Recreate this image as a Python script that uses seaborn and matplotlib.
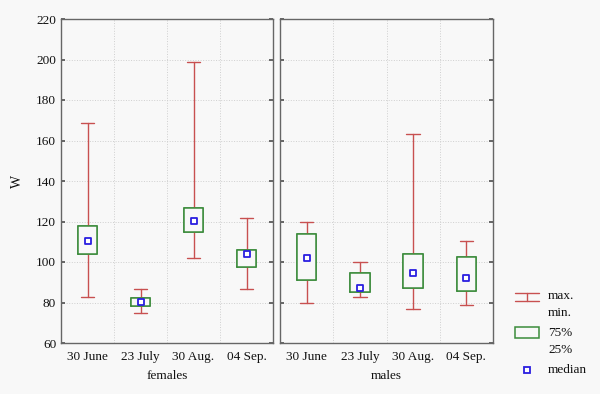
import numpy as np
import pandas as pd
import matplotlib
matplotlib.use("Agg")
import matplotlib.pyplot as plt
import seaborn as sns
from matplotlib.patches import Rectangle

# Data
dates = ["30 June", "23 July", "30 Aug.", "04 Sep."]
groups = ["females", "males"]

f_min = [82.6, 74.7, 101.8, 86.6]
f_q1 = [104.0, 78.5, 114.8, 97.5]
f_med = [110.4, 80.2, 120.3, 104.1]
f_q3 = [117.7, 82.3, 126.6, 106.0]
f_max = [168.4, 86.6, 199.0, 121.8]

m_min = [80.0, 82.5, 77.0, 78.7]
m_q1 = [91.0, 85.3, 87.4, 85.6]
m_med = [102.0, 87.0, 94.7, 92.1]
m_q3 = [114.0, 94.7, 104.1, 102.6]
m_max = [120.0, 99.8, 163.2, 110.5]

stats_by_group = {
    "females": (f_min, f_q1, f_med, f_q3, f_max),
    "males": (m_min, m_q1, m_med, m_q3, m_max),
}

bg = "#f8f8f8"
red = "#c85050"
green = "#3c8c3c"
blue = "#2a1ee0"

sns.set_theme(style="white")
plt.rcParams["font.family"] = ["Liberation Serif", "DejaVu Serif"]
plt.rcParams["font.size"] = 9.5

fig = plt.figure(figsize=(6, 3.94), dpi=100, facecolor=bg)
W, H = 600, 394
panels = [(61, 212), (280, 213)]

axes = []
for i, grp in enumerate(groups):
    x0, w = panels[i]
    ax = fig.add_axes([x0 / W, (H - 343) / H, w / W, 324 / H], facecolor=bg)
    axes.append(ax)
    lo, q1, med, q3, hi = stats_by_group[grp]
    bstats = [dict(whislo=lo[k], q1=q1[k], med=med[k], q3=q3[k], whishi=hi[k],
                   fliers=[], label=dates[k]) for k in range(len(dates))]
    ax.bxp(bstats, positions=np.arange(len(dates)), widths=0.37, capwidths=0.25,
           showfliers=False, manage_ticks=False,
           boxprops=dict(color=green, linewidth=1.1),
           whiskerprops=dict(color=red, linewidth=1.0),
           capprops=dict(color=red, linewidth=1.0),
           medianprops=dict(visible=False))
    # fill the box so it sits over the whisker
    for k in range(len(dates)):
        ax.add_patch(Rectangle((k - 0.185, q1[k]), 0.37, q3[k] - q1[k],
                               facecolor=bg, edgecolor=green, linewidth=1.1, zorder=3))
    df = pd.DataFrame({"date": np.arange(len(dates)), "median": med})
    sns.scatterplot(data=df, x="date", y="median", ax=ax, marker="s", s=22,
                    facecolor="white", edgecolor=blue, linewidth=1.3, zorder=4)

    ax.set_xlim(-0.5, 3.5)
    ax.set_ylim(60, 220)
    ax.set_xticks(np.arange(len(dates)))
    ax.set_xticklabels(dates)
    ax.set_xticks([0.5, 1.5, 2.5], minor=True)
    ax.set_yticks(np.arange(60, 221, 20))
    ax.tick_params(axis="x", which="major", length=0, pad=6, labelsize=9.5, colors="#111111")
    ax.tick_params(axis="x", which="minor", direction="in", length=3, color="#555555")
    ax.tick_params(axis="y", direction="in", length=3, left=True, right=True,
                   color="#555555", labelsize=9.5, labelcolor="#111111")
    ax.grid(True, which="minor", axis="x", linestyle=":", color="#cfcfcf", linewidth=0.7)
    ax.grid(True, which="major", axis="y", linestyle=":", color="#cfcfcf", linewidth=0.7)
    ax.set_axisbelow(True)
    ax.set_xlabel(grp, fontsize=9.5, labelpad=5, color="#111111")
    ax.set_ylabel("")
    for sp in ax.spines.values():
        sp.set_color("#666666")
        sp.set_linewidth(1.0)

axes[0].set_ylabel("W", fontsize=10, labelpad=9, color="#111111")
axes[1].tick_params(axis="y", labelleft=False)

# legend drawn in a pixel-like coordinate box
lg = fig.add_axes([500 / W, 0, 100 / W, 114 / H], facecolor="none")
lg.set_xlim(500, 600)
lg.set_ylim(394, 280)
lg.axis("off")
lg.plot([515, 539], [293, 293], color=red, lw=1.0)
lg.plot([515, 539], [301, 301], color=red, lw=1.0)
lg.plot([527, 527], [293, 301], color=red, lw=1.0)
lg.add_patch(Rectangle((515, 327), 24, 11, facecolor="none", edgecolor=green, lw=1.1))
lg.plot([527], [369.5], marker="s", ms=4.5, mfc="white", mec=blue, mew=1.3)
for txt, yy in [("max.", 296), ("min.", 313), ("75%", 333), ("25%", 350), ("median", 370)]:
    lg.text(548, yy, txt, fontsize=9.5, va="center", ha="left", color="#111111")

fig.savefig("out.png", dpi=100, facecolor=bg)
